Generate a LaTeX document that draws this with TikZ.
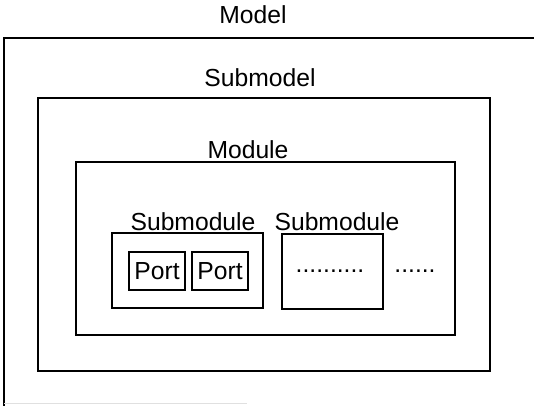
\documentclass[tikz,border=0pt]{standalone}
\usepackage{fontspec}
\setmainfont{Liberation Sans}
\usepackage{tikz}
\usetikzlibrary{positioning}
\tikzset{every picture/.style={line width=1.4pt}}
\tikzset{box/.style={draw, inner sep=0pt}}
\tikzset{lbl/.style={inner sep=0pt, font=\fontsize{18.5}{22}\selectfont}}

\begin{document}
\begin{tikzpicture}[x=0.75pt, y=-0.75pt]
\useasboundingbox (0,0) rectangle (534,405);
\clip (0,0) rectangle (534,405);

\node (model) [box, minimum width=447pt, minimum height=309pt] at (302,244) {};
\draw [line width=0.6pt, black!12] (4,403) -- (247,403);
\node (submodel) [box, minimum width=339pt, minimum height=204.75pt] at (264,234.5) {};
\node (module) [box, minimum width=284.25pt, minimum height=129.75pt] at (265.5,248.5) {};

\node (sub1) [box, minimum width=113.25pt, minimum height=56.25pt] at (187.5,270.5) {};
\node (sub2) [box, right of=sub1, node distance=108.75pt, yshift=-0.75pt, minimum width=75.75pt, minimum height=56.25pt] {};

\node (port1) [box, lbl, minimum width=42pt, minimum height=28.5pt] at (157,271) {Port};
\node (port2) [box, lbl, right of=port1, node distance=47.25pt, minimum width=42pt, minimum height=28.5pt] {Port};

\node (modellbl) [lbl] at (253,15) {Model};
\node (submodellbl) [lbl] at (260,78) {Submodel};
\node (modulelbl) [lbl] at (248,150) {Module};
\node (sub1lbl) [lbl] at (193,222) {Submodule};
\node (sub2lbl) [lbl] at (337,222) {Submodule};

\node (dots1) [lbl] at (330,271) {..........};
\node (dots2) [lbl] at (415,271) {......};
\end{tikzpicture}
\end{document}
